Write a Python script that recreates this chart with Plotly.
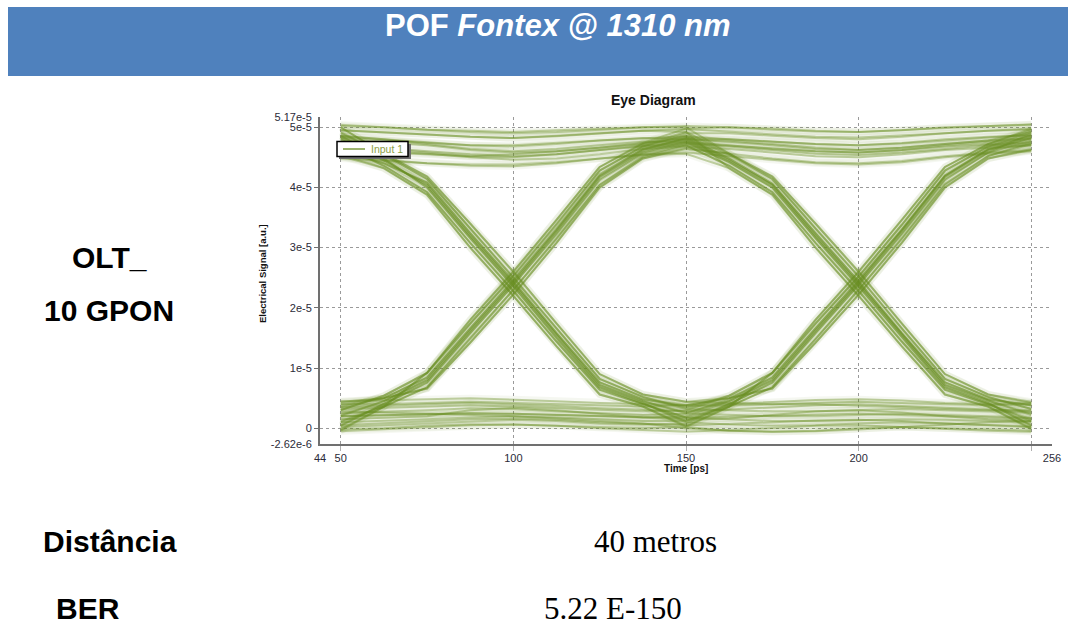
import plotly.graph_objects as go

# ---------------- data ----------------
time_ps = [50, 62.5, 75, 87.5, 100, 112.5, 125, 137.5, 150,
           162.5, 175, 187.5, 200, 212.5, 225, 237.5, 250]

# eye-diagram sweeps, values in units of 1e-5 a.u., grouped by bit pattern
pattern_111 = [
    [4.85, 4.80, 4.74, 4.70, 4.68, 4.72, 4.78, 4.82, 4.85, 4.80, 4.76, 4.72, 4.70, 4.73, 4.78, 4.83, 4.88],
    [4.70, 4.66, 4.60, 4.55, 4.52, 4.55, 4.62, 4.70, 4.74, 4.70, 4.65, 4.60, 4.58, 4.62, 4.68, 4.72, 4.75],
    [4.95, 4.92, 4.88, 4.84, 4.82, 4.85, 4.90, 4.94, 4.97, 4.93, 4.88, 4.84, 4.83, 4.86, 4.90, 4.94, 4.98],
    [4.78, 4.75, 4.70, 4.62, 4.58, 4.60, 4.66, 4.74, 4.80, 4.78, 4.72, 4.66, 4.62, 4.66, 4.72, 4.78, 4.82],
    [4.62, 4.60, 4.56, 4.50, 4.46, 4.48, 4.55, 4.64, 4.68, 4.64, 4.58, 4.52, 4.50, 4.55, 4.62, 4.66, 4.70],
    [5.02, 5.00, 4.96, 4.92, 4.90, 4.92, 4.96, 5.00, 5.02, 5.00, 4.96, 4.93, 4.92, 4.95, 4.98, 5.02, 5.05],
    [4.50, 4.46, 4.40, 4.36, 4.35, 4.40, 4.48, 4.55, 4.58, 4.52, 4.45, 4.40, 4.38, 4.42, 4.50, 4.56, 4.60],
]
pattern_000 = [
    [0.20, 0.22, 0.24, 0.25, 0.24, 0.22, 0.20, 0.18, 0.17, 0.19, 0.21, 0.23, 0.24, 0.22, 0.20, 0.18, 0.16],
    [0.05, 0.08, 0.12, 0.15, 0.16, 0.14, 0.10, 0.07, 0.05, 0.07, 0.10, 0.13, 0.14, 0.12, 0.08, 0.05, 0.03],
    [0.35, 0.38, 0.40, 0.42, 0.40, 0.37, 0.33, 0.30, 0.28, 0.31, 0.35, 0.38, 0.40, 0.37, 0.33, 0.30, 0.28],
    [0.15, 0.17, 0.20, 0.30, 0.34, 0.30, 0.24, 0.18, 0.14, 0.16, 0.22, 0.28, 0.30, 0.26, 0.20, 0.15, 0.12],
    [-0.05, -0.02, 0.02, 0.05, 0.06, 0.04, 0.00, -0.03, -0.06, -0.03, 0.01, 0.04, 0.05, 0.02, -0.02, -0.04, -0.06],
    [0.45, 0.46, 0.48, 0.50, 0.48, 0.45, 0.42, 0.40, 0.38, 0.40, 0.44, 0.47, 0.48, 0.46, 0.42, 0.40, 0.42],
    [0.28, 0.26, 0.24, 0.22, 0.20, 0.16, 0.12, 0.08, 0.00, -0.04, -0.06, -0.05, -0.02, 0.02, 0.06, 0.10, 0.12],
]
pattern_001 = [
    [0.20, 0.22, 0.24, 0.25, 0.24, 0.22, 0.20, 0.18, 0.20, 0.45, 0.80, 1.62, 2.42, 3.28, 4.18, 4.62, 4.82],
    [0.10, 0.12, 0.15, 0.18, 0.20, 0.18, 0.15, 0.12, 0.12, 0.36, 0.68, 1.48, 2.30, 3.16, 4.06, 4.52, 4.75],
    [0.32, 0.34, 0.36, 0.38, 0.36, 0.33, 0.30, 0.28, 0.30, 0.54, 0.92, 1.74, 2.52, 3.38, 4.28, 4.68, 4.86],
    [0.02, 0.05, 0.08, 0.12, 0.14, 0.12, 0.08, 0.06, 0.08, 0.40, 0.76, 1.58, 2.38, 3.22, 4.12, 4.58, 4.90],
    [0.25, 0.27, 0.30, 0.33, 0.32, 0.28, 0.25, 0.22, 0.24, 0.48, 0.84, 1.66, 2.45, 3.30, 4.20, 4.64, 4.70],
    [0.40, 0.40, 0.42, 0.44, 0.42, 0.40, 0.38, 0.36, 0.38, 0.50, 0.66, 1.42, 2.22, 3.08, 4.00, 4.48, 4.62],
    [-0.02, 0.00, 0.04, 0.06, 0.06, 0.04, 0.02, 0.00, 0.02, 0.36, 0.92, 1.80, 2.60, 3.46, 4.34, 4.72, 4.95],
]
pattern_100 = [
    [4.80, 4.45, 4.04, 3.20, 2.40, 1.55, 0.72, 0.45, 0.25, 0.22, 0.20, 0.20, 0.22, 0.24, 0.22, 0.20, 0.18],
    [4.70, 4.36, 3.92, 3.08, 2.28, 1.44, 0.64, 0.40, 0.18, 0.15, 0.12, 0.12, 0.14, 0.15, 0.14, 0.12, 0.10],
    [4.90, 4.54, 4.14, 3.32, 2.50, 1.66, 0.82, 0.52, 0.32, 0.30, 0.28, 0.28, 0.30, 0.32, 0.30, 0.28, 0.26],
    [4.85, 4.48, 4.00, 3.16, 2.36, 1.50, 0.68, 0.42, 0.10, 0.06, 0.04, 0.05, 0.08, 0.10, 0.08, 0.05, 0.02],
    [4.60, 4.40, 4.08, 3.24, 2.44, 1.58, 0.76, 0.48, 0.36, 0.38, 0.40, 0.40, 0.38, 0.35, 0.32, 0.30, 0.30],
    [5.00, 4.56, 4.18, 3.40, 2.60, 1.74, 0.90, 0.56, 0.44, 0.42, 0.40, 0.42, 0.44, 0.42, 0.40, 0.38, 0.40],
    [4.55, 4.32, 3.88, 3.00, 2.20, 1.36, 0.56, 0.36, 0.02, -0.04, -0.06, -0.04, 0.00, 0.02, 0.00, -0.02, -0.04],
]
pattern_010 = [
    [0.20, 0.45, 0.80, 1.62, 2.42, 3.28, 4.18, 4.60, 4.78, 4.45, 4.04, 3.20, 2.40, 1.56, 0.72, 0.46, 0.24],
    [0.10, 0.36, 0.68, 1.50, 2.30, 3.16, 4.04, 4.50, 4.70, 4.36, 3.92, 3.08, 2.28, 1.44, 0.64, 0.40, 0.15],
    [0.30, 0.54, 0.92, 1.74, 2.54, 3.40, 4.28, 4.68, 4.86, 4.54, 4.14, 3.32, 2.52, 1.66, 0.82, 0.52, 0.32],
    [0.05, 0.40, 0.76, 1.58, 2.38, 3.22, 4.12, 4.56, 4.74, 4.42, 4.00, 3.16, 2.36, 1.52, 0.68, 0.42, 0.05],
    [0.35, 0.50, 0.84, 1.66, 2.46, 3.32, 4.22, 4.64, 4.82, 4.48, 4.06, 3.24, 2.44, 1.58, 0.76, 0.48, 0.38],
    [0.42, 0.50, 0.66, 1.42, 2.22, 3.08, 4.00, 4.48, 4.66, 4.56, 4.18, 3.40, 2.60, 1.74, 0.90, 0.56, 0.42],
    [-0.04, 0.36, 0.92, 1.80, 2.60, 3.46, 4.34, 4.72, 4.92, 4.32, 3.88, 3.00, 2.20, 1.36, 0.56, 0.36, -0.02],
]
pattern_011 = [
    [0.22, 0.45, 0.80, 1.62, 2.42, 3.28, 4.18, 4.62, 4.82, 4.80, 4.76, 4.72, 4.70, 4.74, 4.80, 4.84, 4.86],
    [0.12, 0.36, 0.68, 1.48, 2.30, 3.14, 4.04, 4.52, 4.72, 4.68, 4.62, 4.56, 4.54, 4.58, 4.64, 4.70, 4.72],
    [0.30, 0.54, 0.92, 1.74, 2.52, 3.38, 4.28, 4.68, 4.90, 4.90, 4.86, 4.82, 4.80, 4.84, 4.90, 4.94, 4.96],
    [0.04, 0.40, 0.76, 1.58, 2.38, 3.24, 4.14, 4.58, 4.76, 4.70, 4.64, 4.60, 4.58, 4.62, 4.70, 4.76, 4.80],
    [0.38, 0.50, 0.84, 1.66, 2.46, 3.30, 4.20, 4.64, 4.80, 4.76, 4.70, 4.64, 4.62, 4.66, 4.72, 4.78, 4.92],
    [0.44, 0.50, 0.66, 1.42, 2.22, 3.08, 4.00, 4.48, 4.64, 4.56, 4.48, 4.42, 4.40, 4.44, 4.52, 4.58, 4.62],
    [-0.02, 0.36, 0.92, 1.80, 2.60, 3.46, 4.34, 4.74, 4.98, 5.00, 4.98, 4.94, 4.92, 4.95, 5.00, 5.02, 5.04],
]
pattern_110 = [
    [4.82, 4.78, 4.74, 4.70, 4.70, 4.74, 4.78, 4.82, 4.80, 4.45, 4.04, 3.20, 2.40, 1.56, 0.72, 0.46, 0.22],
    [4.70, 4.64, 4.58, 4.52, 4.50, 4.55, 4.62, 4.68, 4.70, 4.36, 3.92, 3.08, 2.28, 1.44, 0.64, 0.40, 0.12],
    [4.95, 4.92, 4.88, 4.84, 4.82, 4.86, 4.90, 4.94, 4.92, 4.56, 4.14, 3.32, 2.52, 1.66, 0.82, 0.52, 0.32],
    [4.86, 4.80, 4.72, 4.64, 4.60, 4.64, 4.70, 4.76, 4.76, 4.42, 4.00, 3.16, 2.36, 1.52, 0.68, 0.42, 0.04],
    [4.60, 4.58, 4.55, 4.52, 4.55, 4.60, 4.66, 4.72, 4.84, 4.48, 4.06, 3.24, 2.44, 1.58, 0.76, 0.48, 0.38],
    [5.04, 5.00, 4.96, 4.94, 4.92, 4.95, 4.98, 5.00, 5.00, 4.56, 4.18, 3.40, 2.60, 1.74, 0.90, 0.56, 0.44],
    [4.48, 4.44, 4.40, 4.38, 4.38, 4.42, 4.48, 4.54, 4.56, 4.32, 3.88, 3.00, 2.20, 1.36, 0.56, 0.36, 0.00],
]
pattern_101 = [
    [4.82, 4.45, 4.04, 3.20, 2.40, 1.55, 0.72, 0.45, 0.26, 0.45, 0.80, 1.62, 2.42, 3.28, 4.18, 4.62, 4.82],
    [4.72, 4.36, 3.92, 3.08, 2.28, 1.44, 0.64, 0.40, 0.18, 0.36, 0.68, 1.48, 2.30, 3.14, 4.04, 4.52, 4.72],
    [4.92, 4.54, 4.14, 3.32, 2.50, 1.66, 0.82, 0.52, 0.34, 0.54, 0.92, 1.74, 2.52, 3.38, 4.28, 4.68, 4.92],
    [4.86, 4.48, 4.00, 3.16, 2.36, 1.50, 0.68, 0.42, 0.12, 0.40, 0.76, 1.58, 2.38, 3.24, 4.14, 4.58, 4.78],
    [4.62, 4.40, 4.08, 3.24, 2.44, 1.58, 0.76, 0.48, 0.38, 0.50, 0.84, 1.66, 2.46, 3.30, 4.20, 4.64, 4.86],
    [5.00, 4.56, 4.18, 3.40, 2.60, 1.74, 0.90, 0.56, 0.44, 0.50, 0.66, 1.42, 2.22, 3.08, 4.00, 4.48, 4.64],
    [4.52, 4.32, 3.88, 3.00, 2.20, 1.36, 0.56, 0.36, 0.04, 0.36, 0.92, 1.80, 2.60, 3.46, 4.34, 4.72, 4.98],
]
Y_UNIT = 1e-5

x_tick_vals = [44, 50, 100, 150, 200, 256]
x_tick_text = ["44", "50", "100", "150", "200", "256"]
x_grid_vals = [50, 100, 150, 200, 250]
y_tick_vals = [-2.62e-6, 0, 1e-5, 2e-5, 3e-5, 4e-5, 5e-5, 5.17e-5]
y_tick_text = ["-2.62e-6", "0", "1e-5", "2e-5", "3e-5", "4e-5", "5e-5", "5.17e-5"]
y_grid_vals = [0, 1e-5, 2e-5, 3e-5, 4e-5, 5e-5]

header_title = "<b>POF <i>Fontex @ 1310 nm</i></b>"
chart_title = "Eye Diagram"
x_title = "Time [ps]"
y_title = "Electrical Signal [a.u.]"
series_name = "Input 1"
left_labels = ["OLT_", "10 GPON", "Distância", "BER"]
right_labels = ["40 metros", "5.22 E-150"]

# ---------------- layout geometry (pixels) ----------------
W, H = 1072, 626
PL, PR, PT, PB = 320, 1052, 117, 444  # plot area


def px2x(px):
    return (px - PL) / (PR - PL)


def py2y(py):
    return (PB - py) / (PB - PT)


GREEN = "rgb(104,142,32)"
fig = go.Figure()

all_traces = (pattern_111 + pattern_000 + pattern_001 + pattern_100 +
              pattern_010 + pattern_011 + pattern_110 + pattern_101)

for tr in all_traces:
    ys = [v * Y_UNIT for v in tr]
    fig.add_trace(go.Scatter(x=time_ps, y=ys, mode="lines",
                             line=dict(color=GREEN, width=7),
                             opacity=0.06, showlegend=False, hoverinfo="skip"))
for tr in all_traces:
    ys = [v * Y_UNIT for v in tr]
    fig.add_trace(go.Scatter(x=time_ps, y=ys, mode="lines",
                             line=dict(color=GREEN, width=2),
                             opacity=0.38, showlegend=False, hoverinfo="skip"))

axis_font = dict(family="Arial, Liberation Sans, sans-serif", size=11, color="#2b2b38")

fig.update_layout(
    width=W, height=H, autosize=False,
    margin=dict(l=PL, r=W - PR, t=PT, b=H - PB, pad=0),
    paper_bgcolor="white", plot_bgcolor="white",
    showlegend=False,
    xaxis=dict(range=[44, 256], tickmode="array", tickvals=x_tick_vals,
               ticktext=x_tick_text, showgrid=False, zeroline=False,
               showline=True, linecolor="#707070", linewidth=2,
               ticks="outside", ticklen=3, tickcolor="rgba(0,0,0,0)",
               tickfont=axis_font,
               minor=dict(tickmode="array", tickvals=x_grid_vals, showgrid=True,
                          griddash="dot", gridcolor="#9a9a9a", gridwidth=1,
                          ticks="outside", ticklen=5, tickcolor="#b0b0b0")),
    yaxis=dict(range=[-2.62e-6, 5.17e-5], tickmode="array", tickvals=y_tick_vals,
               ticktext=y_tick_text, showgrid=False, zeroline=False,
               showline=True, linecolor="#707070", linewidth=2,
               ticks="outside", ticklen=4, tickcolor="rgba(0,0,0,0)",
               tickfont=axis_font,
               minor=dict(tickmode="array", tickvals=y_grid_vals, showgrid=True,
                          griddash="dot", gridcolor="#9a9a9a", gridwidth=1,
                          ticks="outside", ticklen=4, tickcolor="#707070")),
)

LEG_LINE = "rgb(125,155,60)"
shapes = [
    dict(type="rect", xref="paper", yref="paper", layer="below",
         x0=px2x(8), x1=px2x(1068), y0=py2y(76), y1=py2y(7),
         fillcolor="rgb(79,129,189)", line=dict(width=0)),
    # legend box with shadow
    dict(type="rect", xref="paper", yref="paper", layer="above",
         x0=px2x(339), x1=px2x(411), y0=py2y(159), y1=py2y(144),
         fillcolor="rgb(110,110,110)", line=dict(width=0)),
    dict(type="rect", xref="paper", yref="paper", layer="above",
         x0=px2x(337), x1=px2x(408), y0=py2y(156.5), y1=py2y(141.5),
         fillcolor="white", line=dict(color="black", width=1.5)),
    dict(type="line", xref="paper", yref="paper", layer="above",
         x0=px2x(343), x1=px2x(365), y0=py2y(149), y1=py2y(149),
         line=dict(color=LEG_LINE, width=1.5)),
]
fig.update_layout(shapes=shapes)

bold_sans = "Arial, Liberation Sans, sans-serif"
serif = "Times New Roman, Liberation Serif, serif"
ann = []
ann.append(dict(text=series_name, x=px2x(369), y=py2y(149), showarrow=False,
                xref="paper", yref="paper", xanchor="left", yanchor="middle",
                font=dict(family=bold_sans, size=10.5, color="rgb(140,158,70)")))
ann.append(dict(text=header_title, x=px2x(558), y=py2y(25), showarrow=False,
                xref="paper", yref="paper", xanchor="center", yanchor="middle",
                font=dict(family=bold_sans, size=31, color="white")))
ann.append(dict(text="<b>%s</b>" % chart_title, x=px2x(653), y=py2y(100), showarrow=False,
                xref="paper", yref="paper", xanchor="center", yanchor="middle",
                font=dict(family=bold_sans, size=14, color="#111")))
ann.append(dict(text="<b>%s</b>" % x_title, x=px2x(686), y=py2y(469), showarrow=False,
                xref="paper", yref="paper", xanchor="center", yanchor="middle",
                font=dict(family=bold_sans, size=10, color="#111")))
ann.append(dict(text="<b>%s</b>" % y_title, x=px2x(262), y=py2y(274), showarrow=False,
                xref="paper", yref="paper", xanchor="center", yanchor="middle",
                textangle=-90,
                font=dict(family=bold_sans, size=9.5, color="#111")))
left_pos = [(109, 257), (109, 310), (110, 541), (88, 608)]
for txt, (x, y) in zip(left_labels, left_pos):
    ann.append(dict(text="<b>%s</b>" % txt, x=px2x(x), y=py2y(y), showarrow=False,
                    xref="paper", yref="paper", xanchor="center", yanchor="middle",
                    font=dict(family=bold_sans, size=30, color="black")))
right_pos = [(655, 541), (613, 608)]
for txt, (x, y) in zip(right_labels, right_pos):
    ann.append(dict(text=txt, x=px2x(x), y=py2y(y), showarrow=False,
                    xref="paper", yref="paper", xanchor="center", yanchor="middle",
                    font=dict(family=serif, size=31, color="black")))
fig.update_layout(annotations=ann)

fig.write_html("out.html", config={"displayModeBar": False},
               post_script="document.body.style.margin='0';"
                           "document.body.style.overflow='hidden';")
